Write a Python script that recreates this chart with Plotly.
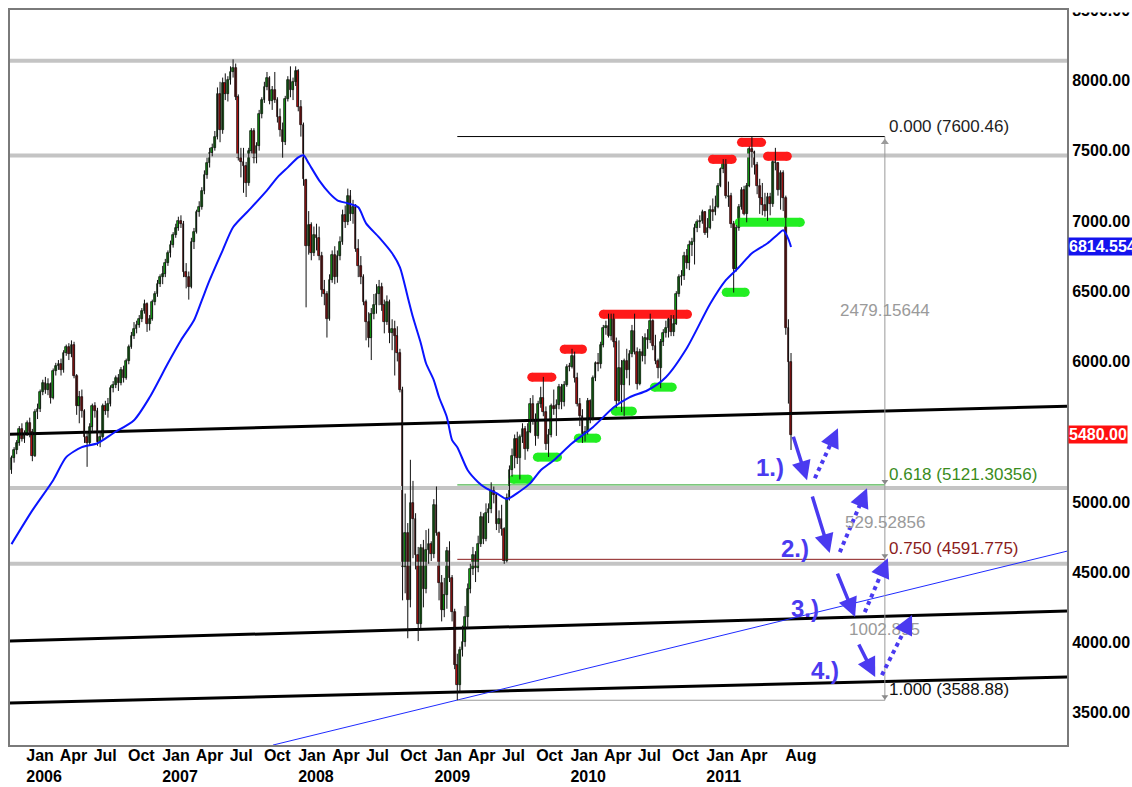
import pandas as pd
import plotly.graph_objects as go

# ---------------- weekly candles (open, high, low, close) ----------------
ohlc_2005 = [
    (5230, 5330, 5200, 5310), (5310, 5390, 5280, 5370), (5370, 5440, 5340, 5420),
    (5420, 5540, 5400, 5520), (5520, 5560, 5430, 5450), (5450, 5510, 5420, 5480),
]
ohlc_2006 = [
    (5480, 5580, 5470, 5560), (5560, 5600, 5460, 5500), (5500, 5520, 5290, 5330), (5330, 5660, 5320, 5640),
    (5640, 5700, 5590, 5660), (5660, 5800, 5640, 5780), (5780, 5870, 5760, 5850), (5850, 5890, 5770, 5800),
    (5800, 5880, 5760, 5840), (5840, 5850, 5700, 5740), (5740, 5950, 5730, 5930), (5930, 5990, 5900, 5970),
    (5970, 6010, 5940, 5980), (5980, 6020, 5900, 5940), (5940, 6080, 5920, 6060), (6060, 6120, 6040, 6100),
    (6100, 6130, 6010, 6050), (6050, 6150, 6030, 6120), (6120, 6140, 5880, 5900), (5900, 5910, 5620, 5680),
    (5680, 5790, 5560, 5750), (5750, 5800, 5600, 5650), (5650, 5660, 5420, 5460), (5460, 5500, 5250, 5420),
    (5420, 5560, 5400, 5530), (5530, 5700, 5500, 5680), (5680, 5710, 5600, 5650), (5650, 5670, 5400, 5430),
    (5430, 5500, 5390, 5460), (5460, 5700, 5450, 5680), (5680, 5720, 5620, 5650), (5650, 5740, 5600, 5700),
    (5700, 5830, 5680, 5810), (5810, 5860, 5780, 5830), (5830, 5900, 5810, 5880), (5880, 5910, 5790, 5850),
    (5850, 5960, 5830, 5940), (5940, 5970, 5850, 5880), (5880, 6020, 5870, 6000), (6000, 6120, 5980, 6100),
    (6100, 6210, 6090, 6180), (6180, 6280, 6160, 6230), (6230, 6290, 6200, 6260), (6260, 6330, 6240, 6300),
    (6300, 6380, 6280, 6360), (6360, 6440, 6340, 6410), (6410, 6420, 6210, 6270), (6270, 6330, 6220, 6300),
    (6300, 6440, 6290, 6420), (6420, 6500, 6400, 6480), (6480, 6580, 6460, 6550), (6550, 6620, 6530, 6600),
]
ohlc_2007 = [
    (6600, 6680, 6550, 6620), (6620, 6730, 6600, 6700), (6700, 6790, 6680, 6770), (6770, 6860, 6740, 6830),
    (6830, 6920, 6810, 6900), (6900, 6980, 6880, 6950), (6950, 7030, 6930, 7000), (7000, 7040, 6950, 6980),
    (6980, 7000, 6600, 6640), (6640, 6700, 6520, 6600), (6600, 6640, 6440, 6530), (6530, 6880, 6520, 6850),
    (6850, 6950, 6800, 6920), (6920, 7080, 6910, 7060), (7060, 7140, 7030, 7100), (7100, 7240, 7080, 7210),
    (7210, 7360, 7190, 7330), (7330, 7450, 7300, 7410), (7410, 7520, 7380, 7480), (7480, 7550, 7460, 7520),
    (7520, 7640, 7500, 7600), (7600, 7950, 7580, 7900), (7900, 7990, 7560, 7650), (7650, 8020, 7620, 7980),
    (7980, 8050, 7860, 7900), (7900, 8030, 7850, 8000), (8000, 8100, 7970, 8060), (8060, 8150, 8020, 8090),
    (8090, 8120, 7860, 7880), (7880, 7900, 7430, 7450), (7450, 7520, 7310, 7420), (7420, 7520, 7200, 7390),
    (7390, 7420, 7170, 7270), (7270, 7520, 7250, 7500), (7500, 7660, 7480, 7640), (7640, 7660, 7410, 7450),
    (7450, 7560, 7410, 7530), (7530, 7790, 7500, 7760), (7760, 7880, 7730, 7860), (7860, 7990, 7840, 7950),
    (7950, 8060, 7930, 8020), (8020, 8030, 7830, 7850), (7850, 7960, 7790, 7930), (7930, 8060, 7840, 7860),
    (7860, 7880, 7700, 7740), (7740, 7800, 7600, 7650), (7650, 7700, 7450, 7560), (7560, 7890, 7540, 7870),
    (7870, 8030, 7850, 8000), (8000, 8100, 7880, 7930), (7930, 8020, 7860, 7990), (7990, 8100, 7960, 8070),
]
ohlc_2008 = [
    (8070, 8080, 7780, 7810), (7810, 7860, 7600, 7680), (7680, 7700, 7250, 7300), (7290, 7300, 6385, 6820),
    (6820, 7070, 6760, 6970), (6970, 6990, 6720, 6770), (6770, 6960, 6750, 6900), (6900, 6980, 6790, 6880),
    (6880, 6960, 6720, 6750), (6750, 6780, 6460, 6510), (6510, 6580, 6400, 6480), (6480, 6500, 6170, 6300),
    (6300, 6620, 6290, 6580), (6580, 6790, 6560, 6760), (6760, 6820, 6550, 6600), (6600, 6790, 6560, 6750),
    (6750, 6890, 6720, 6850), (6850, 7080, 6830, 7040), (7040, 7110, 6950, 6990), (6990, 7230, 6970, 7180),
    (7180, 7220, 7000, 7050), (7050, 7150, 6980, 7100), (7100, 7120, 6780, 6800), (6800, 6870, 6600, 6680),
    (6680, 6750, 6550, 6600), (6600, 6620, 6400, 6420), (6420, 6440, 6150, 6280), (6280, 6350, 6100, 6170),
    (6170, 6380, 6010, 6340), (6340, 6480, 6300, 6400), (6400, 6550, 6340, 6480), (6480, 6580, 6400, 6530),
    (6530, 6560, 6360, 6400), (6400, 6440, 6200, 6280), (6280, 6470, 6260, 6420), (6420, 6440, 6130, 6200),
    (6200, 6300, 6080, 6230), (6230, 6290, 5900, 6180), (6180, 6250, 6000, 6060), (6060, 6090, 5780, 5800),
    (5800, 5820, 4300, 4540), (4540, 5060, 4350, 4780), (4780, 4850, 4030, 4300), (4300, 5300, 4250, 4990),
    (4990, 5150, 4600, 4880), (4880, 4920, 4520, 4620), (4620, 4680, 4010, 4130), (4130, 4700, 4100, 4670),
    (4670, 4730, 4250, 4380), (4380, 4800, 4350, 4660), (4660, 4810, 4560, 4700), (4700, 4720, 4580, 4630),
]
ohlc_2009 = [
    (4630, 5020, 4600, 4980), (4980, 5110, 4760, 4780), (4780, 4790, 4300, 4420), (4420, 4480, 4150, 4230),
    (4230, 4460, 4180, 4340), (4340, 4680, 4240, 4650), (4650, 4720, 4430, 4460), (4460, 4480, 4150, 4220),
    (4220, 4240, 3810, 3840), (3840, 3920, 3589, 3700), (3700, 3970, 3650, 3950), (3950, 4120, 3900, 4000),
    (4000, 4260, 3970, 4180), (4180, 4420, 4100, 4380), (4380, 4560, 4350, 4520), (4520, 4680, 4480, 4620),
    (4620, 4650, 4430, 4530), (4530, 4760, 4500, 4700), (4700, 4930, 4680, 4890), (4890, 4920, 4700, 4740),
    (4740, 4990, 4720, 4920), (4920, 4990, 4850, 4950), (4950, 5140, 4920, 5080), (5080, 5110, 4990, 5050),
    (5050, 5060, 4800, 4840), (4840, 4940, 4780, 4880), (4880, 4980, 4760, 4810), (4810, 4820, 4560, 4580),
    (4580, 5060, 4570, 5030), (5030, 5260, 5010, 5230), (5230, 5380, 5180, 5330), (5330, 5480, 5240, 5450),
    (5450, 5500, 5270, 5310), (5310, 5480, 5160, 5460), (5460, 5560, 5420, 5520), (5520, 5540, 5300, 5380),
    (5380, 5560, 5360, 5500), (5500, 5740, 5490, 5700), (5700, 5760, 5550, 5580), (5580, 5630, 5400, 5470),
    (5470, 5720, 5450, 5700), (5700, 5820, 5670, 5740), (5740, 5890, 5610, 5640), (5640, 5680, 5370, 5410),
    (5410, 5520, 5320, 5480), (5480, 5700, 5460, 5680), (5680, 5800, 5620, 5660), (5660, 5730, 5470, 5690),
    (5690, 5840, 5660, 5820), (5820, 5840, 5660, 5710), (5710, 5860, 5680, 5830), (5830, 5980, 5820, 5960),
]
ohlc_2010 = [
    (5960, 5990, 5930, 5957), (5957, 6090, 5950, 6040), (6040, 6070, 5850, 5880), (5880, 5920, 5680, 5700),
    (5700, 5740, 5540, 5610), (5610, 5660, 5420, 5430), (5430, 5540, 5430, 5500), (5500, 5740, 5480, 5720),
    (5720, 5730, 5560, 5600), (5600, 5900, 5580, 5880), (5880, 6000, 5860, 5990), (5990, 6060, 5930, 5980),
    (5980, 6140, 5950, 6120), (6120, 6260, 6100, 6240), (6240, 6290, 6190, 6250), (6250, 6340, 6170, 6180),
    (6180, 6340, 6150, 6330), (6330, 6340, 6100, 6140), (6140, 6170, 5670, 5720), (5720, 6150, 5700, 5950),
    (5950, 6010, 5640, 5830), (5830, 6020, 5610, 6000), (6000, 6090, 5880, 5940), (5940, 6080, 5830, 6050),
    (6050, 6260, 6030, 6220), (6220, 6340, 6050, 6070), (6070, 6100, 5800, 5840), (5840, 6090, 5830, 6070),
    (6070, 6180, 6000, 6040), (6040, 6200, 5980, 6170), (6170, 6230, 6090, 6150), (6150, 6340, 6130, 6290),
    (6290, 6300, 6080, 6110), (6110, 6190, 5980, 6000), (6000, 6020, 5880, 5950), (5950, 6160, 5810, 6140),
    (6140, 6230, 6110, 6200), (6200, 6290, 6170, 6240), (6240, 6310, 6170, 6300), (6300, 6330, 6180, 6210),
    (6210, 6330, 6180, 6270), (6270, 6500, 6260, 6480), (6480, 6620, 6460, 6600), (6600, 6650, 6540, 6610),
    (6610, 6780, 6580, 6750), (6750, 6800, 6660, 6700), (6700, 6860, 6650, 6830), (6830, 6880, 6750, 6850),
    (6850, 6980, 6690, 6950), (6950, 7010, 6920, 6990), (6990, 7040, 6950, 7000), (7000, 7080, 6980, 7060),
    (7060, 7070, 6900, 6914),
]
ohlc_2011 = [
    (6914, 7020, 6880, 6950), (6950, 7110, 6940, 7080), (7080, 7160, 7000, 7060), (7060, 7180, 7040, 7100),
    (7100, 7270, 7090, 7250), (7250, 7380, 7240, 7370), (7370, 7440, 7340, 7430), (7430, 7440, 7160, 7180),
    (7170, 7280, 7100, 7180), (7180, 7200, 6950, 6980), (6980, 7000, 6490, 6660), (6660, 6970, 6640, 6950),
    (6950, 7120, 6930, 7100), (7100, 7240, 7080, 7220), (7220, 7250, 7040, 7050), (7050, 7270, 6990, 7250),
    (7250, 7530, 7240, 7510), (7510, 7600, 7380, 7490), (7490, 7500, 7330, 7400), (7400, 7420, 7190, 7250),
    (7250, 7300, 7050, 7160), (7160, 7270, 7040, 7110), (7110, 7200, 7030, 7070), (7070, 7200, 7000, 7170),
    (7170, 7200, 7040, 7120), (7120, 7430, 7100, 7420), (7420, 7520, 7360, 7410), (7410, 7420, 7180, 7220),
    (7220, 7360, 7080, 7340), (7340, 7360, 7070, 7160), (7160, 7180, 6190, 6236), (6236, 6300, 5700, 5997),
    (5997, 6060, 5370, 5480),
]

# moving average (blue line) read at selected weeks (index into the weekly candles)
ma_weeks = [0, 8, 16, 21, 27, 33, 39, 47, 53, 60, 65, 70, 73, 76, 81, 85, 91, 98, 102, 106,
            110, 112, 114, 118, 122, 125, 129, 133, 136, 141, 146, 149, 152, 154, 157, 159, 162,
            164, 167, 169, 171, 175, 179, 182, 186, 190, 194, 199, 203, 208, 215, 223, 231, 237,
            244, 251, 259, 268, 274, 279, 284, 290, 294, 296, 298, 299]
ma_values = [4700, 4940, 5155, 5319, 5390, 5418, 5489, 5582, 5745, 5987, 6151, 6293, 6435, 6578,
             6791, 6955, 7075, 7218, 7310, 7381, 7452, 7467, 7410, 7289, 7196, 7147, 7125, 7097,
             6983, 6883, 6770, 6670, 6457, 6314, 6130, 5987, 5866, 5745, 5603, 5440, 5390, 5226,
             5141, 5098, 5063, 5020, 5063, 5134, 5226, 5297, 5418, 5532, 5674, 5745, 5795, 5888,
             6094, 6410, 6578, 6670, 6770, 6841, 6905, 6933, 6870, 6814.554]
last_close = 5480.00

# horizontal grey levels and trend lines
grey_levels = [8140, 7465, 5100, 4560]
trend_dates = ["2005-11-21", "2013-08-29"]
trend_upper = [5482, 5681]
trend_middle = [4010, 4224]
trend_lower = [3569, 3754]
blue_trend_dates = ["2007-10-28", "2013-08-29"]
blue_trend_prices = [3270, 4650]

# fibonacci retracement
fib_dates = ["2009-03-06", "2012-04-27"]
fib_prices = [7600.46, 5121.30356, 4591.775, 3588.88]
fib_labels = ["0.000 (7600.46)", "0.618 (5121.30356)", "0.750 (4591.775)", "1.000 (3588.88)"]
fib_text_colors = ["#1e1e1e", "#3a8c1c", "#8b1c1c", "#111111"]
fib_line_colors = ["#000000", "#22a022", "#8b1c1c", "#9a9a9a"]
fib_gap_labels = ["2479.15644", "529.52856", "1002.895"]

# resistance (red) and support (green) markers
red_starts = ["2009-09-22", "2009-12-18", "2010-04-02", "2011-01-20", "2011-04-08", "2011-06-17"]
red_ends = ["2009-11-15", "2010-02-05", "2010-11-14", "2011-03-14", "2011-06-01", "2011-08-09"]
red_prices = [5888, 6087, 6336, 7438, 7559, 7460]
green_starts = ["2009-08-03", "2009-10-07", "2010-01-25", "2010-05-04", "2010-08-17", "2011-02-26", "2011-04-02"]
green_ends = ["2009-09-13", "2009-11-30", "2010-03-15", "2010-06-19", "2010-10-04", "2011-04-18", "2011-09-13"]
green_prices = [5162, 5319, 5454, 5646, 5817, 6492, 6990]

# scenario arrows: (tail date, tail price, head date, head price)
solid_arrows = [("2011-08-24", 5475, "2011-10-01", 5155), ("2011-10-14", 5049, "2011-12-01", 4636),
                ("2011-12-20", 4501, "2012-02-07", 4181), ("2012-02-15", 3996, "2012-04-01", 3754)]
dotted_arrows = [("2011-10-22", 5169, "2011-12-23", 5525), ("2011-12-28", 4643, "2012-03-10", 5098),
                 ("2012-03-04", 4216, "2012-05-05", 4600), ("2012-04-19", 3768, "2012-07-09", 4195)]
step_labels = ["1.)", "2.)", "3.)", "4.)"]
step_dates = ["2011-06-24", "2011-08-30", "2011-09-26", "2011-11-18"]
step_prices = [5248, 4672, 4245, 3804]

# axis ticks (5500 is covered by the last-price tag)
y_ticks = [3500, 4000, 4500, 5000, 6000, 6500, 7000, 7500, 8000, 8500]
x_tick_dates = ["2006-01-01", "2006-04-01", "2006-07-01", "2006-10-01", "2007-01-01", "2007-04-01",
                "2007-07-01", "2007-10-01", "2008-01-01", "2008-04-01", "2008-07-01", "2008-10-01",
                "2009-01-01", "2009-04-01", "2009-07-01", "2009-10-01", "2010-01-01", "2010-04-01",
                "2010-07-01", "2010-10-01", "2011-01-01", "2011-04-01", "2011-08-01"]
x_tick_text = ["Jan<br>2006", "Apr", "Jul", "Oct", "Jan<br>2007", "Apr", "Jul", "Oct",
               "Jan<br>2008", "Apr", "Jul", "Oct", "Jan<br>2009", "Apr", "Jul", "Oct",
               "Jan<br>2010", "Apr", "Jul", "Oct", "Jan<br>2011", "Apr", "Aug"]

# ---------------------------------------------------------------------------------
candles = ohlc_2005 + ohlc_2006 + ohlc_2007 + ohlc_2008 + ohlc_2009 + ohlc_2010 + ohlc_2011
weeks = pd.date_range(end="2011-08-19", periods=len(candles), freq="W-FRI")
opens = [c[0] for c in candles]
highs = [c[1] for c in candles]
lows = [c[2] for c in candles]
closes = [c[3] for c in candles]

FONT = "Liberation Sans, Arial, sans-serif"
ARROW = "#4a3af0"

fig = go.Figure()

def seg(x, y, color, width, dash="solid"):
    fig.add_trace(go.Scatter(x=x, y=y, mode="lines", line=dict(color=color, width=width, dash=dash),
                             hoverinfo="skip", showlegend=False))

for lv in grey_levels:
    seg(trend_dates, [lv, lv], "#c4c4c4", 4)
seg(trend_dates, trend_upper, "#000000", 3)
seg(trend_dates, trend_middle, "#000000", 3)
seg(trend_dates, trend_lower, "#000000", 3)
seg(blue_trend_dates, blue_trend_prices, "#1f2bff", 1)

for p, c in zip(fib_prices, fib_line_colors):
    seg(fib_dates, [p, p], c, 1)
seg([fib_dates[1], fib_dates[1]], [fib_prices[0], fib_prices[-1]], "#9a9a9a", 1)
fig.add_trace(go.Scatter(x=[fib_dates[1]], y=[fib_prices[0] - 40], mode="markers",
                         marker=dict(symbol="triangle-up", size=7, color="#9a9a9a"),
                         hoverinfo="skip", showlegend=False))
fig.add_trace(go.Scatter(x=[fib_dates[1]] * 3, y=[p + 25 for p in fib_prices[1:]], mode="markers",
                         marker=dict(symbol="triangle-down", size=6, color="#8a8a8a"),
                         hoverinfo="skip", showlegend=False))

for s, e, p in zip(red_starts, red_ends, red_prices):
    fig.add_trace(go.Scatter(x=[s, e], y=[p, p], mode="lines+markers",
                             line=dict(color="#ff1a1a", width=9), marker=dict(size=9, color="#ff1a1a"),
                             hoverinfo="skip", showlegend=False))
for s, e, p in zip(green_starts, green_ends, green_prices):
    fig.add_trace(go.Scatter(x=[s, e], y=[p, p], mode="lines+markers",
                             line=dict(color="#22ee22", width=9), marker=dict(size=9, color="#22ee22"),
                             hoverinfo="skip", showlegend=False))

# candles: wicks then bodies
wick_x, wick_y = [], []
for d, h, l in zip(weeks, highs, lows):
    wick_x += [d, d, None]
    wick_y += [l, h, None]
fig.add_trace(go.Scatter(x=wick_x, y=wick_y, mode="lines", line=dict(color="#111111", width=1),
                         hoverinfo="skip", showlegend=False))
body_base = [min(o, c) for o, c in zip(opens, closes)]
body_size = [max(abs(c - o), 8) for o, c in zip(opens, closes)]
body_color = ["#14c814" if c >= o else "#e41010" for o, c in zip(opens, closes)]
fig.add_trace(go.Bar(x=weeks, y=body_size, base=body_base, width=4.6 * 86400000,
                     marker=dict(color=body_color, line=dict(color="#000000", width=0.7)),
                     hoverinfo="skip", showlegend=False))

fig.add_trace(go.Scatter(x=[weeks[i] for i in ma_weeks], y=ma_values, mode="lines",
                         line=dict(color="#0a14ff", width=2, shape="spline", smoothing=0.7),
                         hoverinfo="skip", showlegend=False))

# dotted arrow shafts
for td, tp, hd, hp in dotted_arrows:
    t0, t1 = pd.Timestamp(td), pd.Timestamp(hd)
    mid = t0 + (t1 - t0) * 0.8
    seg([t0, mid], [tp, tp + (hp - tp) * 0.8], ARROW, 4, "dot")

annotations = []
for p, lab, col in zip(fib_prices, fib_labels, fib_text_colors):
    annotations.append(dict(x=fib_dates[1], y=p, xref="x", yref="y", text=lab, showarrow=False,
                            xanchor="left", yanchor="bottom", xshift=2, yshift=-1,
                            font=dict(family=FONT, size=17, color=col)))
for i, lab in enumerate(fib_gap_labels):
    annotations.append(dict(x=fib_dates[1], y=(fib_prices[i] + fib_prices[i + 1]) / 2, xref="x", yref="y",
                            text=lab, showarrow=False, xanchor="center", yanchor="middle",
                            font=dict(family=FONT, size=17, color="#9a9a9a")))
for td, tp, hd, hp in solid_arrows:
    annotations.append(dict(x=hd, y=hp, ax=td, ay=tp, xref="x", yref="y", axref="x", ayref="y",
                            text="", showarrow=True, arrowhead=2, arrowsize=1.1, arrowwidth=3.5,
                            arrowcolor=ARROW))
for td, tp, hd, hp in dotted_arrows:
    t0, t1 = pd.Timestamp(td), pd.Timestamp(hd)
    mid = t0 + (t1 - t0) * 0.8
    annotations.append(dict(x=hd, y=hp, ax=mid, ay=tp + (hp - tp) * 0.8, xref="x", yref="y",
                            axref="x", ayref="y", text="", showarrow=True, arrowhead=2,
                            arrowsize=1.1, arrowwidth=3.5, arrowcolor=ARROW))
for lab, d, p in zip(step_labels, step_dates, step_prices):
    annotations.append(dict(x=d, y=p, xref="x", yref="y", text="<b>" + lab + "</b>", showarrow=False,
                            xanchor="center", yanchor="middle",
                            font=dict(family=FONT, size=24, color=ARROW)))
# white strip above the frame hides the upper half of the topmost tick label
annotations.append(dict(x=1, y=1, xref="paper", yref="paper", text="&nbsp;", showarrow=False,
                        xanchor="left", yanchor="bottom", xshift=2, yshift=-3, width=80, height=16,
                        bgcolor="#ffffff", borderpad=0, font=dict(size=8, color="#ffffff")))
annotations.append(dict(x=1, y=ma_values[-1], xref="paper", yref="y", text="<b>6814.554</b>",
                        showarrow=False, xanchor="left", yanchor="middle", xshift=1,
                        bgcolor="#1414ee", borderpad=0, font=dict(family=FONT, size=16, color="white")))
annotations.append(dict(x=1, y=last_close, xref="paper", yref="y", text="<b>%.2f</b>" % last_close,
                        showarrow=False, xanchor="left", yanchor="middle", xshift=1,
                        bgcolor="#ff1010", borderpad=0, font=dict(family=FONT, size=16, color="white")))

fig.update_layout(
    width=1132, height=787,
    margin=dict(l=10, r=65, t=10, b=42, autoexpand=False),
    paper_bgcolor="white", plot_bgcolor="white",
    showlegend=False, barmode="overlay", bargap=0,
    annotations=annotations,
    xaxis=dict(type="date", range=["2005-11-21", "2013-08-29"], showgrid=False, zeroline=False,
               showline=True, linecolor="#7a7a7a", linewidth=2, mirror=True, ticks="",
               tickmode="array", tickvals=x_tick_dates, ticktext=x_tick_text,
               ticklabelposition="outside right", tickangle=0, automargin=False,
               ticklabelstandoff=-5,
               tickfont=dict(family=FONT, size=16, color="black", weight="bold"),
               fixedrange=True),
    yaxis=dict(side="right", range=[3270.5, 8501], showgrid=False, zeroline=False,
               showline=True, linecolor="#7a7a7a", linewidth=2, mirror=True, ticks="",
               tickmode="array", tickvals=y_ticks, ticktext=["%.2f" % v for v in y_ticks],
               automargin=False,
               tickfont=dict(family=FONT, size=16, color="black", weight="bold"), fixedrange=True),
)

fig.write_html("out.html", config={"displayModeBar": False},
               post_script="document.body.style.margin='0';document.body.style.overflow='hidden';")
